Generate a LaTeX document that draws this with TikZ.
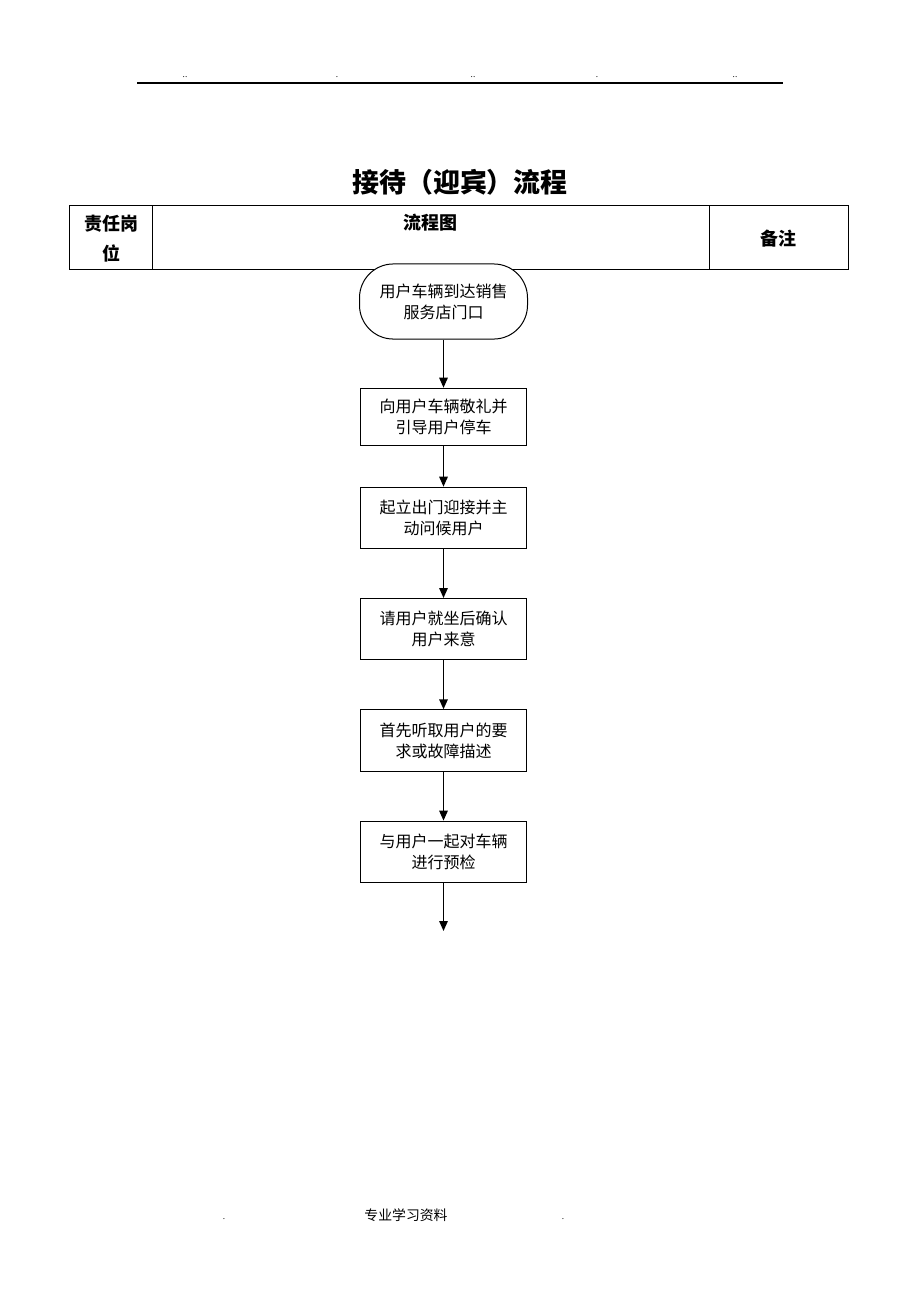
\documentclass[tikz,border=0pt]{standalone}
\usepackage{fontspec}
\setmainfont{Liberation Serif}
\newfontfamily\cjk{Noto Sans CJK SC}
\usetikzlibrary{shapes,arrows.meta,calc,positioning}

\begin{document}
\begin{tikzpicture}[x=0.65pt,y=-0.65pt,
      every node/.style={font=\cjk, inner sep=0pt},
      flowbox/.style={draw, line width=0.65pt, minimum width=108.5pt, minimum height=39.8pt, align=center, font=\cjk\fontsize{10.4}{13.6}\selectfont},
      startbox/.style={flowbox, rounded corners=22pt, minimum width=109.2pt, minimum height=48.8pt},
      flowarrow/.style={-{Triangle[length=6.5pt,width=5.5pt]}, line width=1pt},
      headcell/.style={font=\cjk\bfseries\fontsize{11.7}{19.5}\selectfont, align=center},
      tinydot/.style={font=\fontsize{6}{6}\selectfont}]
      \useasboundingbox (0,0) rectangle (920,1302);
      \draw[line width=1.1pt] (137,83) -- (783,83);
      \foreach \x/\t in {185/{..},337/{.},473/{..},597/{.},735/{..}}
         \node[tinydot] at (\x,77) {\t};
      \node[font=\cjk\bfseries\fontsize{17.5}{20}\selectfont] (title) at (460,182) {接待（迎宾）流程};
      \draw[line width=0.65pt] (69,205) rectangle (848,269);
      \draw[line width=0.65pt] (152,205) -- (152,269);
      \draw[line width=0.65pt] (709,205) -- (709,269);
      \node[headcell] (duty) at (111,239) {责任岗\\位};
      \node[headcell] (chart) at (430,223) {流程图};
      \node[headcell] (note) at (778,239) {备注};
      \node[startbox, fill=white] (start) at (443.5,301.5) {用户车辆到达销售\\服务店门口};
      \node[flowbox, minimum height=37pt, below=31.3pt of start] (salute) {向用户车辆敬礼并\\引导用户停车};
      \node[flowbox, below=26.7pt of salute] (greet) {起立出门迎接并主\\动问候用户};
      \node[flowbox, below=31.9pt of greet] (seat) {请用户就坐后确认\\用户来意};
      \node[flowbox, below=31.9pt of seat] (listen) {首先听取用户的要\\求或故障描述};
      \node[flowbox, below=31.9pt of listen] (check) {与用户一起对车辆\\进行预检};
      \coordinate[below=31.3pt of check] (next);
      \draw[flowarrow] (start) -- (salute);
      \draw[flowarrow] (salute) -- (greet);
      \draw[flowarrow] (greet) -- (seat);
      \draw[flowarrow] (seat) -- (listen);
      \draw[flowarrow] (listen) -- (check);
      \draw[flowarrow] (check) -- (next);
      \node[tinydot] (dotl) at (224,1219) {.};
      \node[font=\cjk\fontsize{9}{9}\selectfont] (foot) at (406,1215) {专业学习资料};
      \node[tinydot] (dotr) at (563,1219) {.};
\end{tikzpicture}
\end{document}
